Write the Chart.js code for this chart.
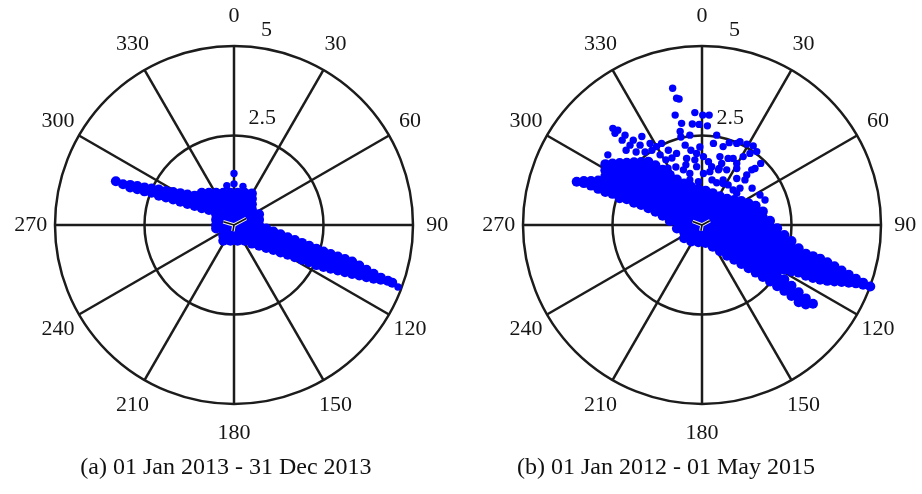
<!DOCTYPE html>
<html>
<head>
<meta charset="utf-8">
<script src="https://cdn.jsdelivr.net/npm/chart.js@4"></script>
<style>
  html, body { margin: 0; padding: 0; background: #fff; }
  body { width: 922px; height: 494px; position: relative; overflow: hidden; }
  canvas { position: absolute; }
  #chartA { left: 4px; top: -5px; }
  #chartB { left: 472px; top: -5px; }
  .caption {
    position: absolute; width: 400px; text-align: center;
    font-family: "Liberation Serif", serif; font-size: 24px; line-height: 24px; color: #111;
    top: 454px;
  }
  #capA { left: 26px; }
  #capB { left: 466px; }
</style>
</head>
<body>
<canvas id="chartA" width="460" height="460"></canvas>
<canvas id="chartB" width="460" height="460"></canvas>
<div class="caption" id="capA">(a) 01 Jan 2013 - 31 Dec 2013</div>
<div class="caption" id="capB">(b) 01 Jan 2012 - 01 May 2015</div>

<script>
'use strict';

// axis ticks
const angleTicks = [0, 30, 60, 90, 120, 150, 180, 210, 240, 270, 300, 330];
const radialTicks = [2.5, 5];

// data: each row is [east, north, north, ...]
const cloudA = [
  [-3.3, 1.22],
  [-3.1, 1.14],
  [-2.9, 1.12, 1.05],
  [-2.7, 1.09, 1.00],
  [-2.5, 1.05, 0.94],
  [-2.3, 1.02, 0.90],
  [-2.1, 0.99, 0.89, 0.82],
  [-1.9, 0.95, 0.86, 0.77],
  [-1.7, 0.92, 0.82, 0.71],
  [-1.5, 0.89, 0.78, 0.65],
  [-1.3, 0.85, 0.73, 0.59],
  [-1.1, 0.82, 0.68, 0.53],
  [-0.9, 0.90, 0.76, 0.62, 0.47],
  [-0.7, 0.90, 0.76, 0.61, 0.42],
  [-0.5, 0.90, 0.75, 0.60, 0.45, 0.30, 0.15, 0.00, -0.10],
  [-0.3, 0.90, 0.75, 0.60, 0.45, 0.30, 0.15, 0.00, -0.15, -0.30, -0.44],
  [-0.1, 0.90, 0.75, 0.60, 0.45, 0.30, 0.15, 0.00, -0.15, -0.30, -0.44],
  [0.1, 0.90, 0.75, 0.60, 0.45, 0.30, 0.15, 0.00, -0.15, -0.30, -0.44],
  [0.3, 0.90, 0.75, 0.60, 0.45, 0.30, 0.15, 0.00, -0.15, -0.30, -0.44],
  [0.5, 0.88, 0.73, 0.58, 0.43, 0.28, 0.13, -0.02, -0.17, -0.32, -0.47, -0.52],
  [0.7, 0.30, 0.15, 0.00, -0.15, -0.30, -0.45, -0.58],
  [0.9, -0.10, -0.25, -0.40, -0.55, -0.64],
  [1.1, -0.18, -0.33, -0.48, -0.62, -0.70],
  [1.3, -0.26, -0.41, -0.56, -0.70, -0.77],
  [1.5, -0.34, -0.49, -0.64, -0.78, -0.83],
  [1.7, -0.42, -0.57, -0.72, -0.90],
  [1.9, -0.50, -0.65, -0.80, -0.97],
  [2.1, -0.58, -0.73, -0.88, -1.04],
  [2.3, -0.66, -0.81, -0.96, -1.12],
  [2.5, -0.74, -0.89, -1.04, -1.17],
  [2.7, -0.81, -0.96, -1.10, -1.22],
  [2.9, -0.88, -1.03, -1.17, -1.27],
  [3.1, -0.95, -1.10, -1.24, -1.32],
  [3.3, -1.02, -1.17, -1.30, -1.37],
  [3.5, -1.13, -1.27, -1.41],
  [3.7, -1.25, -1.36, -1.46],
  [3.9, -1.36, -1.50],
  [4.1, -1.47, -1.53],
  [4.3, -1.56],
  [4.42, -1.61]
];
const strayA = [
  [0.0, 1.44], [0.0, 1.15], [-0.2, 1.10], [0.25, 1.08], [4.58, -1.73]
];
// small mean-direction marks at the centre
const meanA = [[-0.30, 0.09], [0.0, 0.0], [0.34, 0.18], [0.0, 0.0], [-0.03, -0.17]];

const cloudB = [
  [-3.5, 1.21],
  [-3.3, 1.23, 1.17],
  [-3.1, 1.23, 1.10],
  [-2.9, 1.24, 1.10, 1.01],
  [-2.7, 1.70, 1.53, 1.36, 1.19, 1.02, 0.92],
  [-2.5, 1.72, 1.55, 1.38, 1.21, 1.04, 0.87],
  [-2.3, 1.73, 1.56, 1.39, 1.22, 1.05, 0.89, 0.75],
  [-2.1, 1.74, 1.57, 1.40, 1.23, 1.06, 0.89, 0.72],
  [-1.9, 1.75, 1.58, 1.41, 1.24, 1.07, 0.90, 0.74, 0.62],
  [-1.7, 1.76, 1.59, 1.42, 1.25, 1.08, 0.91, 0.74, 0.56],
  [-1.5, 1.77, 1.60, 1.43, 1.26, 1.09, 0.92, 0.75, 0.58, 0.47],
  [-1.3, 1.67, 1.50, 1.33, 1.16, 0.99, 0.82, 0.65, 0.48, 0.37],
  [-1.1, 1.54, 1.37, 1.20, 1.03, 0.86, 0.69, 0.52, 0.35, 0.26],
  [-0.9, 1.40, 1.23, 1.06, 0.89, 0.72, 0.55, 0.38, 0.21, 0.11],
  [-0.7, 1.27, 1.10, 0.93, 0.76, 0.59, 0.42, 0.25, 0.08, -0.10],
  [-0.5, 1.16, 0.99, 0.82, 0.65, 0.48, 0.31, 0.14, -0.03, -0.20, -0.37],
  [-0.3, 1.07, 0.90, 0.73, 0.56, 0.39, 0.22, 0.05, -0.12, -0.29, -0.46],
  [-0.1, 1.00, 0.83, 0.66, 0.49, 0.32, 0.15, -0.02, -0.19, -0.36, -0.48],
  [0.1, 0.96, 0.79, 0.62, 0.45, 0.28, 0.11, -0.06, -0.23, -0.40, -0.50],
  [0.3, 0.89, 0.72, 0.55, 0.38, 0.21, 0.04, -0.13, -0.30, -0.47, -0.61],
  [0.5, 0.80, 0.63, 0.46, 0.29, 0.12, -0.05, -0.22, -0.39, -0.56, -0.73],
  [0.7, 0.73, 0.56, 0.39, 0.22, 0.05, -0.12, -0.29, -0.46, -0.63, -0.80, -0.86],
  [0.9, 0.70, 0.53, 0.36, 0.19, 0.02, -0.15, -0.32, -0.49, -0.66, -0.83, -0.97],
  [1.1, 0.67, 0.50, 0.33, 0.16, -0.01, -0.18, -0.35, -0.52, -0.69, -0.86, -1.03, -1.09],
  [1.3, 0.61, 0.44, 0.27, 0.10, -0.07, -0.24, -0.41, -0.58, -0.75, -0.92, -1.09, -1.21],
  [1.5, 0.54, 0.37, 0.20, 0.03, -0.14, -0.31, -0.48, -0.65, -0.82, -0.99, -1.16, -1.33],
  [1.7, 0.38, 0.21, 0.04, -0.13, -0.30, -0.47, -0.64, -0.81, -0.98, -1.15, -1.32, -1.45],
  [1.9, 0.12, -0.05, -0.22, -0.39, -0.56, -0.73, -0.90, -1.07, -1.24, -1.41, -1.58],
  [2.1, -0.09, -0.26, -0.43, -0.60, -0.77, -0.94, -1.11, -1.28, -1.45, -1.62, -1.71],
  [2.3, -0.28, -0.45, -0.62, -0.79, -0.96, -1.13, -1.25, -1.52, -1.68, -1.84],
  [2.5, -0.45, -0.62, -0.79, -0.96, -1.13, -1.30, -1.70, -1.86, -1.98],
  [2.7, -0.65, -0.82, -0.99, -1.16, -1.33, -1.88, -2.04, -2.16],
  [2.9, -0.80, -0.97, -1.14, -1.31, -1.42, -2.05, -2.22],
  [3.1, -0.87, -1.04, -1.21, -1.38, -1.48, -2.20],
  [3.3, -0.94, -1.11, -1.28, -1.45, -1.53],
  [3.5, -1.04, -1.21, -1.38, -1.56],
  [3.7, -1.15, -1.32, -1.49, -1.58],
  [3.9, -1.27, -1.44, -1.59],
  [4.1, -1.39, -1.52, -1.61],
  [4.3, -1.50, -1.63],
  [4.5, -1.61, -1.67],
  [4.7, -1.72]
];
const strayB = [
  [-0.82, 3.82], [-0.71, 3.54], [-0.64, 3.52], [-0.75, 3.07], [-0.57, 2.84], [-0.61, 2.61],
  [-0.20, 3.14], [0.02, 3.07], [0.20, 3.07], [-0.27, 2.82], [-0.08, 2.81], [0.15, 2.77],
  [-2.49, 2.70], [-2.43, 2.56], [-2.15, 2.51], [-1.92, 2.37], [-1.68, 2.47], [-1.45, 2.28],
  [-1.27, 2.19], [-1.13, 2.28], [-0.94, 2.09], [-0.71, 2.00], [-0.47, 2.23], [-0.43, 1.86],
  [-0.15, 2.00], [0.04, 1.91], [0.18, 1.77], [0.41, 2.51], [0.59, 2.19], [0.76, 2.30],
  [0.97, 2.28], [1.25, 2.26], [1.43, 2.21], [1.53, 2.05], [1.64, 1.72], [1.48, 1.58],
  [1.25, 1.40], [1.20, 1.26], [0.97, 1.72], [0.73, 1.86], [0.50, 1.91], [0.27, 1.63],
  [0.48, 1.58], [0.97, 1.58], [-0.52, 1.54], [-0.34, 1.44], [-0.20, 1.82], [0.04, 1.44],
  [0.41, 1.18], [0.59, 1.26], [0.87, 0.98], [0.97, 0.89], [0.32, 2.28], [1.06, 2.33],
  [1.34, 2.00], [1.39, 1.54], [1.15, 1.91], [0.87, 1.86], [0.55, 1.72], [-0.15, 1.63],
  [0.22, 1.49], [0.46, 1.54], [0.69, 1.54], [0.97, 1.30], [0.59, 1.16], [-0.10, 1.21],
  [-2.35, 2.65], [-2.23, 2.37], [-2.01, 2.23], [-1.73, 2.23], [-1.59, 2.04], [-1.84, 2.04],
  [-2.12, 2.09], [-1.40, 2.09], [-1.17, 1.96], [-1.01, 1.82], [-0.84, 1.87], [-0.73, 1.62],
  [-0.95, 1.59], [-0.59, 2.46], [-0.45, 1.68], [-0.31, 2.09], [-0.06, 2.18], [-0.34, 2.51],
  [1.40, 1.03], [1.62, 0.84], [1.76, 0.70], [0.28, 1.26], [0.73, 1.12], [1.06, 1.03],
  [-0.34, 1.26], [-2.63, 1.96]
];
const meanB = [[-0.26, 0.10], [0.0, 0.0], [0.22, 0.12], [0.0, 0.0], [-0.03, -0.16]];

// helpers
function expandColumns(rows) {
  let pts = [];
  for (let row of rows) {
    for (let i = 1; i < row.length; i++) {
      pts.push({ x: row[0], y: row[i] });
    }
  }
  return pts;
}

function toPoints(pairs) {
  return pairs.map(p => ({ x: p[0], y: p[1] }));
}

// polar grid, spokes and labels drawn from the x/y scales
const polarGrid = {
  id: 'polarGrid',
  beforeDatasetsDraw(chart) {
    const ctx = chart.ctx;
    const xs = chart.scales.x;
    const ys = chart.scales.y;
    const cx = xs.getPixelForValue(0);
    const cy = ys.getPixelForValue(0);
    const unit = xs.getPixelForValue(1) - cx;
    const rMax = radialTicks[radialTicks.length - 1];

    ctx.save();
    ctx.strokeStyle = '#1c1c1c';
    ctx.lineWidth = 2.5;
    for (let t of radialTicks) {
      ctx.beginPath();
      ctx.arc(cx, cy, t * unit, 0, Math.PI * 2);
      ctx.stroke();
    }
    for (let a of angleTicks) {
      const rad = a * Math.PI / 180;
      ctx.beginPath();
      ctx.moveTo(cx, cy);
      ctx.lineTo(cx + rMax * unit * Math.sin(rad), cy - rMax * unit * Math.cos(rad));
      ctx.stroke();
    }

    ctx.fillStyle = '#151515';
    ctx.font = '22px "Liberation Serif", serif';
    ctx.textAlign = 'center';
    ctx.textBaseline = 'middle';
    for (let a of angleTicks) {
      const rad = a * Math.PI / 180;
      ctx.fillText(String(a),
        cx + rMax * unit * 1.135 * Math.sin(rad),
        cy - rMax * unit * 1.165 * Math.cos(rad));
    }

    ctx.textAlign = 'left';
    ctx.textBaseline = 'alphabetic';
    const tickRad = 8 * Math.PI / 180;
    for (let t of radialTicks) {
      ctx.fillText(String(t),
        cx + t * unit * Math.sin(tickRad) + 2,
        cy - t * unit * Math.cos(tickRad) - 12);
    }
    ctx.restore();
  }
};

function renderPolar(canvasId, cloud, stray, mean) {
  const ctx = document.getElementById(canvasId).getContext('2d');
  return new Chart(ctx, {
    type: 'scatter',
    data: {
      datasets: [{
        label: 'bulk',
        data: expandColumns(cloud),
        backgroundColor: '#0000ff',
        borderWidth: 0,
        pointRadius: 5,
        order: 4
      }, {
        label: 'stray',
        data: toPoints(stray),
        backgroundColor: '#0000ff',
        borderWidth: 0,
        pointRadius: 3.7,
        order: 3
      }, {
        label: 'halo',
        data: toPoints(mean),
        showLine: true,
        borderColor: '#f4f4f4',
        borderWidth: 3.5,
        pointRadius: 0,
        order: 2
      }, {
        label: 'mean',
        data: toPoints(mean),
        showLine: true,
        borderColor: '#111111',
        borderWidth: 1.6,
        pointRadius: 0,
        order: 1
      }]
    },
    options: {
      responsive: false,
      animation: false,
      layout: { padding: 51 },
      plugins: {
        legend: { display: false },
        tooltip: { enabled: false }
      },
      scales: {
        x: { type: 'linear', min: -5, max: 5, display: false },
        y: { type: 'linear', min: -5, max: 5, display: false }
      }
    },
    plugins: [polarGrid]
  });
}

renderPolar('chartA', cloudA, strayA, meanA);
renderPolar('chartB', cloudB, strayB, meanB);
</script>
</body>
</html>
